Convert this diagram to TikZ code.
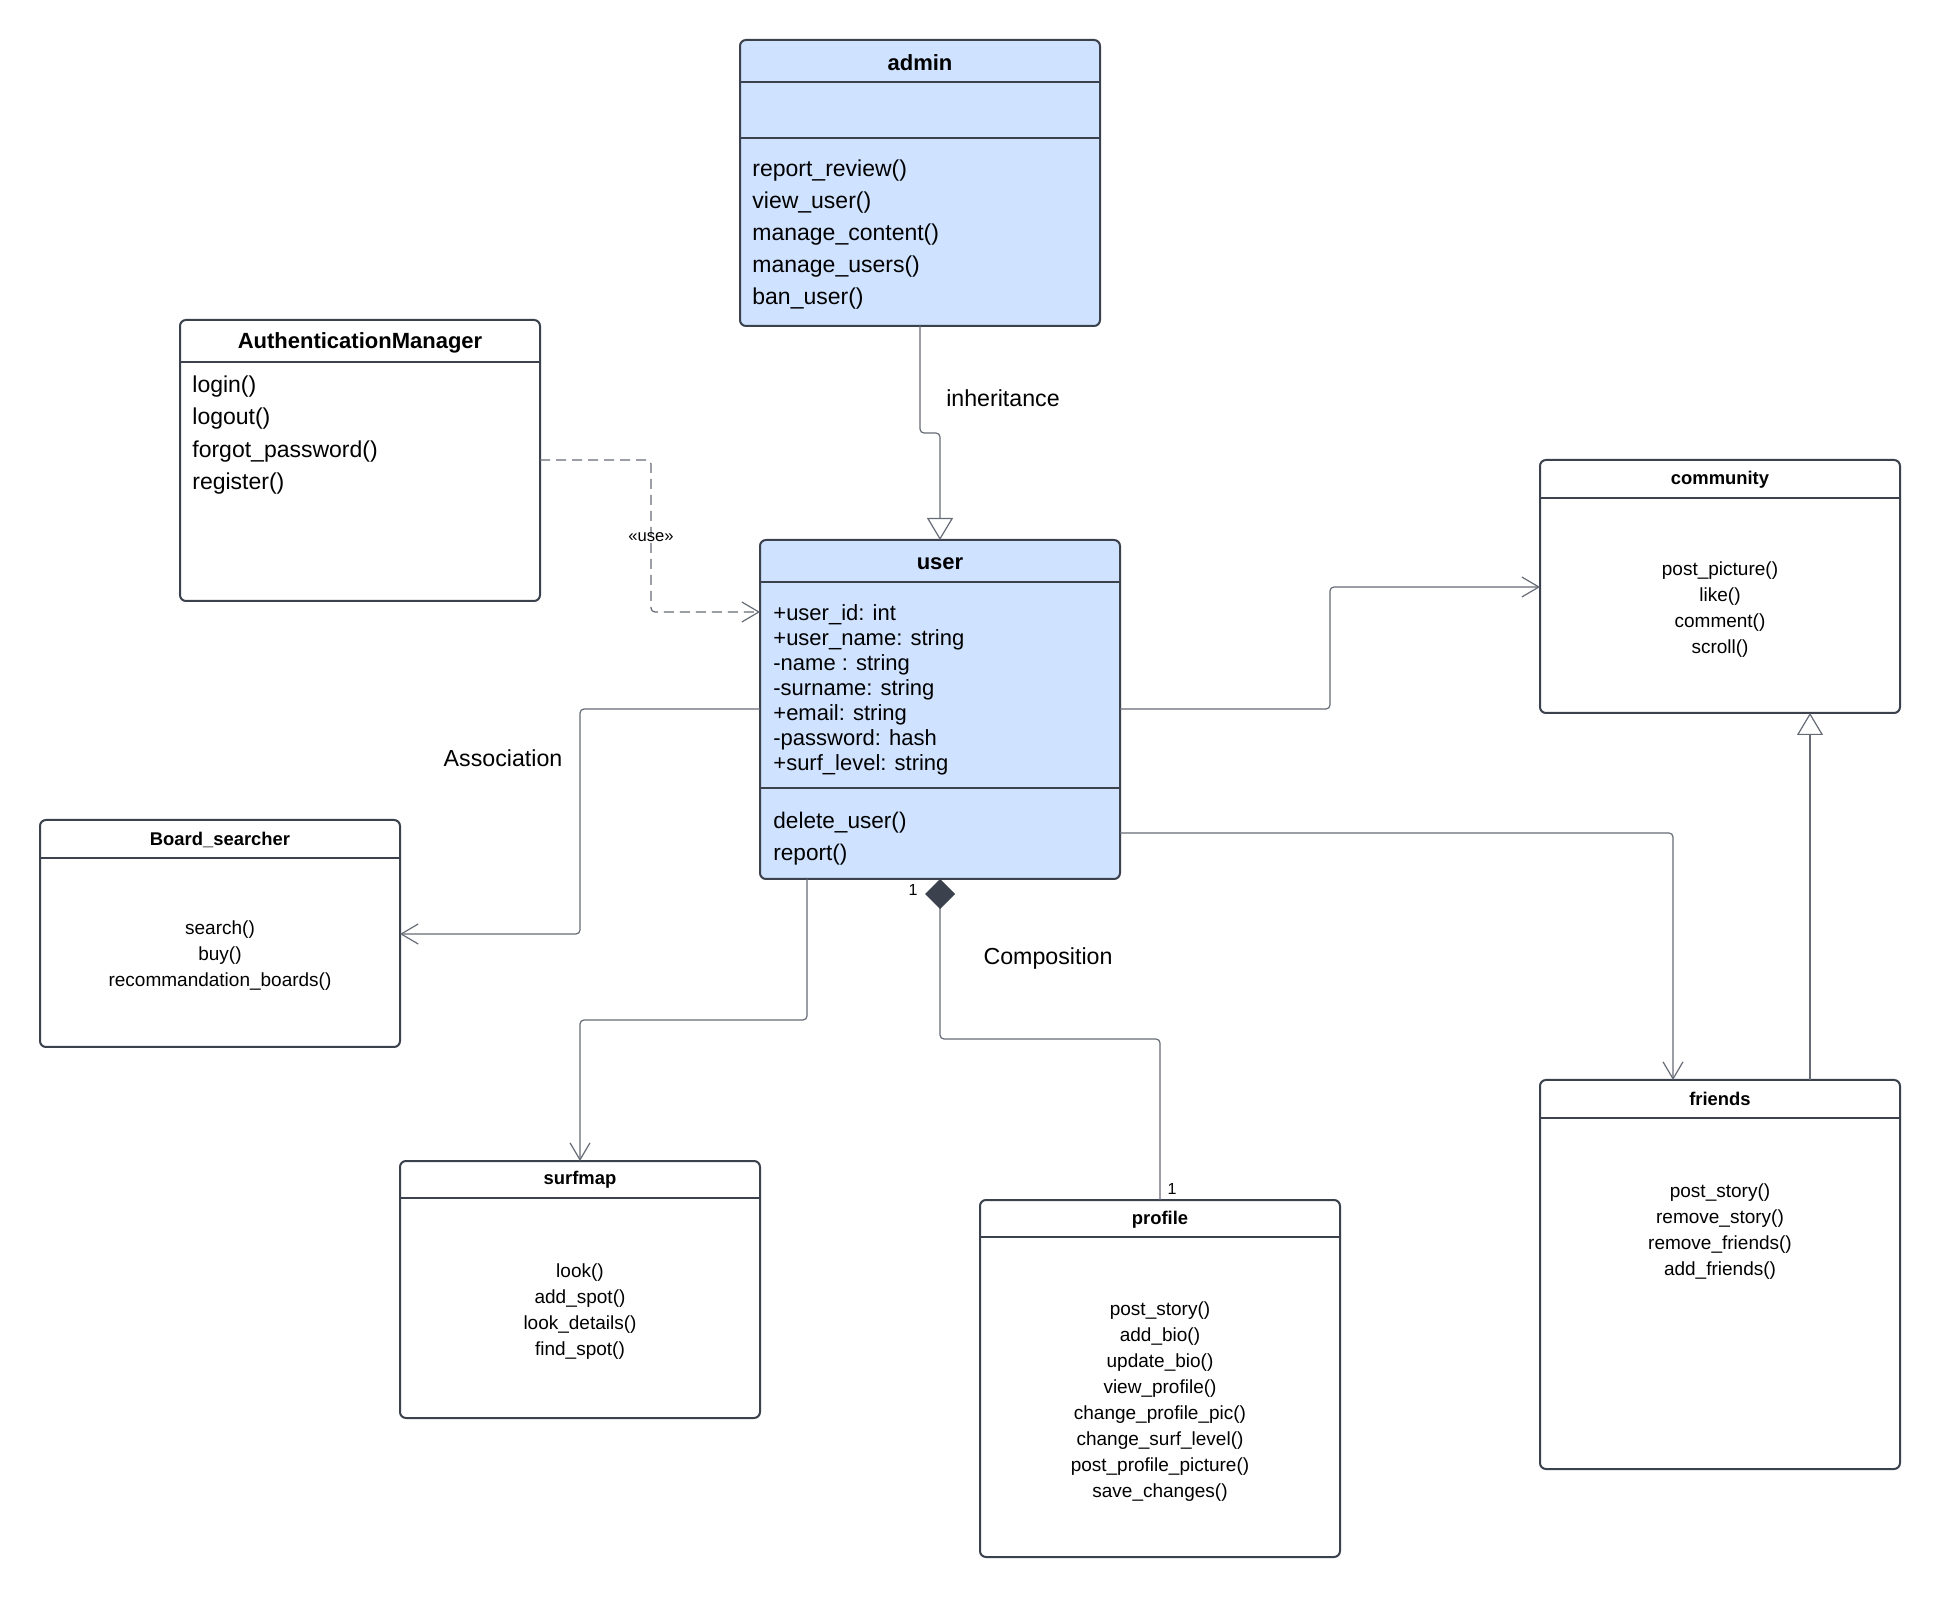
\documentclass[tikz,border=0pt]{standalone}
\usepackage{fontspec}
\setmainfont{Liberation Sans}
\usetikzlibrary{arrows.meta}

\definecolor{boxline}{HTML}{3B414D}
\definecolor{boxblue}{HTML}{CFE2FF}
\definecolor{wiregray}{HTML}{666C76}

\begin{document}
\begin{tikzpicture}[x=0.5pt, y=-0.5pt,
    cls/.style={draw=boxline, line width=1pt, rounded corners=3pt, inner sep=0pt, outer sep=0pt, minimum width=180pt},
    bluecls/.style={cls, fill=boxblue},
    sep/.style={draw=boxline, line width=1pt},
    bigtitle/.style={font=\fontsize{11}{13}\selectfont\bfseries},
    smalltitle/.style={font=\fontsize{9.2}{11}\selectfont\bfseries},
    bigops/.style={align=left, anchor=west, inner sep=0pt},
    smallops/.style={align=center, inner sep=0pt},
    wire/.style={draw=wiregray, line width=0.6pt, rounded corners=2pt},
    assoc/.style={wire, -{Straight Barb[length=8.5pt, width=10pt]}},
    inherit/.style={wire, -{Triangle[open, length=11pt, width=13pt, fill=white]}},
    uses/.style={wire, dash pattern=on 5pt off 3pt, -{Straight Barb[length=8.5pt, width=10pt]}},
    comp/.style={wire, {Diamond[length=15pt, width=15pt, color=boxline, fill=boxline]}-},
    lbl/.style={font=\fontsize{11.6}{13}\selectfont},
    mult/.style={font=\fontsize{8}{10}\selectfont}
]
    \fill[white, use as bounding box] (0,0) rectangle (1940,1598);

    % boxes
    \node[bluecls, minimum height=143pt] (admin) at (920,183) {};
    \node[cls, minimum height=140.5pt] (auth) at (360,460.5) {};
    \node[bluecls, minimum height=169.5pt] (user) at (940,709.5) {};
    \node[cls, minimum height=126.5pt] (community) at (1720,586.5) {};
    \node[cls, minimum height=113.5pt] (board) at (220,933.5) {};
    \node[cls, minimum height=128.5pt] (surfmap) at (580,1289.5) {};
    \node[cls, minimum height=178.5pt] (profile) at (1160,1378.5) {};
    \node[cls, minimum height=194.5pt] (friends) at (1720,1274.5) {};

    % compartments
    \draw[sep] (admin.west |- 0,82) -- (admin.east |- 0,82);
    \draw[sep] (admin.west |- 0,138) -- (admin.east |- 0,138);
    \draw[sep] (auth.west |- 0,362) -- (auth.east |- 0,362);
    \draw[sep] (user.west |- 0,582) -- (user.east |- 0,582);
    \draw[sep] (user.west |- 0,788) -- (user.east |- 0,788);
    \draw[sep] (community.west |- 0,498) -- (community.east |- 0,498);
    \draw[sep] (board.west |- 0,858) -- (board.east |- 0,858);
    \draw[sep] (surfmap.west |- 0,1198) -- (surfmap.east |- 0,1198);
    \draw[sep] (profile.west |- 0,1237) -- (profile.east |- 0,1237);
    \draw[sep] (friends.west |- 0,1118) -- (friends.east |- 0,1118);

    % titles
    \node[bigtitle] (admintitle) at (920,63) {admin};
    \node[bigtitle] (authtitle) at (360,343) {AuthenticationManager};
    \node[bigtitle] (usertitle) at (940,564) {user};
    \node[smalltitle] (communitytitle) at (1720,480) {community};
    \node[smalltitle] (boardtitle) at (220,840) {Board\_searcher};
    \node[smalltitle] (surfmaptitle) at (580,1180) {surfmap};
    \node[smalltitle] (profiletitle) at (1160,1220) {profile};
    \node[smalltitle] (friendstitle) at (1720,1099) {friends};

    % members
    \node[bigops, font=\fontsize{11.5}{16}\selectfont] (adminops) at (752,235)
        {report\_review()\\view\_user()\\manage\_content()\\manage\_users()\\ban\_user()};
    \node[bigops, font=\fontsize{11.5}{16.3}\selectfont] (authops) at (192,435)
        {login()\\logout()\\forgot\_password()\\register()};
    \node[bigops, font=\fontsize{11}{12.5}\selectfont] (userattrs) at (773,689.5)
        {+user\_id: int\\+user\_name: string\\-name : string\\-surname: string\\+email: string\\-password: hash\\+surf\_level: string};
    \node[bigops, font=\fontsize{11.3}{16}\selectfont] (userops) at (773,838.5)
        {delete\_user()\\report()};
    \node[smallops, font=\fontsize{9.5}{13}\selectfont] (communityops) at (1720,609.5)
        {post\_picture()\\like()\\comment()\\scroll()};
    \node[smallops, font=\fontsize{9.5}{13}\selectfont] (boardops) at (220,956)
        {search()\\buy()\\recommandation\_boards()};
    \node[smallops, font=\fontsize{9.5}{13}\selectfont] (surfmapops) at (580,1312)
        {look()\\add\_spot()\\look\_details()\\find\_spot()};
    \node[smallops, font=\fontsize{9.5}{13}\selectfont] (profileops) at (1160,1401.5)
        {post\_story()\\add\_bio()\\update\_bio()\\view\_profile()\\change\_profile\_pic()\\change\_surf\_level()\\post\_profile\_picture()\\save\_changes()};
    \node[smallops, font=\fontsize{9.5}{13}\selectfont] (friendsops) at (1720,1231.5)
        {post\_story()\\remove\_story()\\remove\_friends()\\add\_friends()};

    % relations
    \draw[inherit] (admin.south) -- ++(0,107) -| (user.north);
    \node[lbl] (inhlabel) at (1003,398) {inheritance};

    \draw[uses] (auth.east |- 0,460) -| (651,612) -- (user.west |- 0,612);
    \node[font=\fontsize{8.3}{10}\selectfont] (uselabel) at (651,537) {«use»};

    \draw[assoc] (user.west |- 0,709) -| (580,934) -- (board.east |- 0,934);
    \node[lbl] (assoclabel) at (503,758) {Association};

    \draw[assoc] (user.south -| 807,0) |- (surfmap.north |- 0,1020) -- (surfmap.north);

    \draw[comp] (user.south) |- (profile.north |- 0,1039) -- (profile.north);
    \node[mult] (usermult) at (913,890) {1};
    \node[mult] (profilemult) at (1172,1189) {1};
    \node[lbl] (complabel) at (1048,959) {Composition};

    \draw[assoc] (user.east |- 0,709) -- (1330,709) |- (community.west |- 0,587);
    \draw[assoc] (user.east |- 0,833) -| (friends.north -| 1673,0);
    \draw[inherit] (friends.north -| 1810,0) -- (community.south -| 1810,0);
\end{tikzpicture}
\end{document}
